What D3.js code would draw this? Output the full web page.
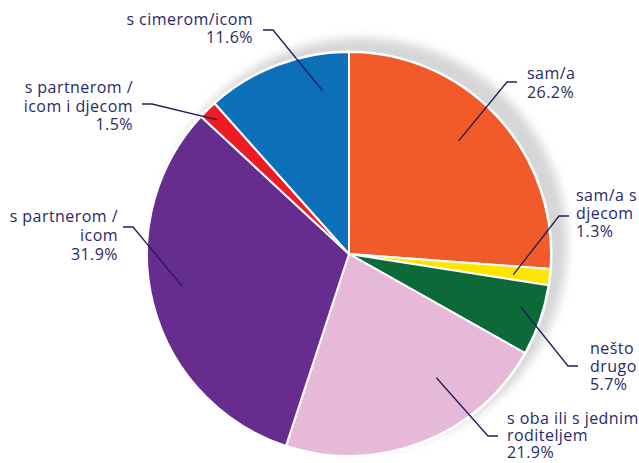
<!DOCTYPE html>
<html><head><meta charset="utf-8">
<script src="https://cdn.jsdelivr.net/npm/d3@7"></script>
<style>html,body{margin:0;padding:0;background:#fff;}svg{display:block;}</style>
</head><body>
<svg id="chart" width="639" height="463"></svg>
<script>
// Data
const categories = ["sam/a", "sam/a s djecom", "nešto drugo", "s oba ili s jednim roditeljem", "s partnerom / icom", "s partnerom / icom i djecom", "s cimerom/icom"];
const values = [26.2, 1.3, 5.7, 21.9, 31.9, 1.5, 11.6];
const colors = ["#F15A29", "#FFE600", "#0B6A37", "#E7B9D9", "#662D8F", "#ED1C24", "#0C70B8"];
const labelLines = [["sam/a", "26.2%"], ["sam/a s", "djecom", "1.3%"], ["nešto", "drugo", "5.7%"], ["s oba ili s jednim", "roditeljem", "21.9%"], ["s partnerom /", "icom", "31.9%"], ["s partnerom /", "icom i djecom", "1.5%"], ["s cimerom/icom", "11.6%"]];

// Layout (label placement)
const layout = [
  {x: 527, y: 79, lh: 18.8, anchor: "start", ex: 517, ey: 82, dir: -1, ang: -3, rf: 0.78},
  {x: 576, y: 201, lh: 18.2, anchor: "start", ex: 569, ey: 216, dir: -1, ang: 0.6, rf: 0.82},
  {x: 590, y: 354, lh: 18, anchor: "start", ex: 578, ey: 366, dir: -1, ang: -2, rf: 0.89},
  {x: 507, y: 424, lh: 17.2, anchor: "start", ex: 498, ey: 436, dir: -1, ang: -14, rf: 0.75},
  {x: 118, y: 222, lh: 19, anchor: "end", ex: 123, ey: 227, dir: 1, ang: 3.4, rf: 0.84},
  {x: 133, y: 93, lh: 18.5, anchor: "end", ex: 142, ey: 104, dir: 1, ang: 0, rf: 0.93},
  {x: 253, y: 25, lh: 18.3, anchor: "end", ex: 263, ey: 30, dir: 1, ang: 11.6, rf: 0.82}
];

const svg = d3.select("#chart");
const cx = 349, cy = 254, R = 202;

const defs = svg.append("defs");
defs.append("filter").attr("id", "blur").attr("x", "-20%").attr("y", "-20%").attr("width", "140%").attr("height", "140%")
  .append("feGaussianBlur").attr("stdDeviation", 5);

svg.append("circle").attr("cx", cx + 12).attr("cy", cy - 10).attr("r", R + 4)
  .attr("fill", "#d6d6d6").attr("filter", "url(#blur)");

const pie = d3.pie().sort(null).value(d => d);
const arcs = pie(values);
const arc = d3.arc().innerRadius(0).outerRadius(R);

const g = svg.append("g").attr("transform", `translate(${cx},${cy})`);
g.append("circle").attr("r", R + 1.5).attr("fill", "#fff");
g.selectAll("path.slice").data(arcs).join("path")
  .attr("class", "slice")
  .attr("d", arc)
  .attr("fill", (d, i) => colors[i])
  .attr("stroke", "#fff").attr("stroke-width", 2).attr("stroke-linejoin", "round");

// Leader lines
const navy = "#1F1D5C";
arcs.forEach((d, i) => {
  const L = layout[i];
  const a = (d.startAngle + d.endAngle) / 2 + L.ang * Math.PI / 180;
  const px = cx + Math.sin(a) * R * L.rf;
  const py = cy - Math.cos(a) * R * L.rf;
  const elbowX = L.ex + L.dir * 10;
  svg.append("polyline")
    .attr("points", `${L.ex},${L.ey} ${elbowX},${L.ey} ${px},${py}`)
    .attr("fill", "none").attr("stroke", navy).attr("stroke-width", 1.3);
});

// Labels
labelLines.forEach((lines, i) => {
  const L = layout[i];
  const t = svg.append("text")
    .attr("x", L.x).attr("y", L.y)
    .attr("text-anchor", L.anchor)
    .attr("font-family", "'Open Sans', sans-serif")
    .attr("font-size", 16)
    .attr("letter-spacing", 0.45)
    .attr("fill", "#2A2868");
  lines.forEach((s, j) => {
    t.append("tspan").attr("x", L.x).attr("dy", j === 0 ? 0 : L.lh).text(s);
  });
});
</script>
</body></html>
